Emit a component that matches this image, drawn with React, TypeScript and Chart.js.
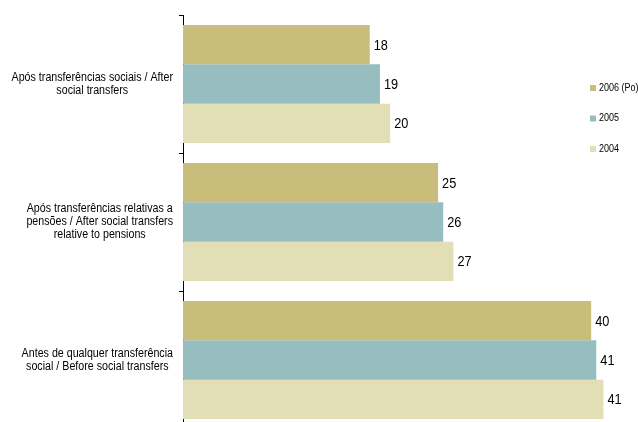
import React, { useEffect, useRef } from "react";
import { Chart, registerables } from "chart.js";

Chart.register(...registerables);

const categories: string[][] = [
  ["Após transferências sociais / After", "social transfers"],
  ["Após transferências relativas a", "pensões / After social transfers", "relative to pensions"],
  ["Antes de qualquer transferência", "social / Before social transfers"],
];
const seriesNames = ["2006 (Po)", "2005", "2004"];
const values2006 = [18.3, 25.0, 40.0];
const values2005 = [19.3, 25.5, 40.5];
const values2004 = [20.3, 26.5, 41.2];
const seriesColors = ["#C8BD7A", "#96BEC1", "#E2DFB7"];

const FONT = '"Liberation Sans", Arial, sans-serif';

function drawScaledText(ctx: any, text: string, x: number, y: number, sx: number) {
  ctx.save();
  ctx.translate(x, y);
  ctx.scale(sx, 1);
  ctx.fillText(text, 0, 0);
  ctx.restore();
}

const dataLabelsPlugin = {
  id: "dataLabels",
  afterDatasetsDraw(chart: any) {
    const ctx = chart.ctx;
    ctx.save();
    ctx.font = `15px ${FONT}`;
    ctx.fillStyle = "#000";
    ctx.textBaseline = "middle";
    ctx.textAlign = "left";
    chart.data.datasets.forEach((ds: any, i: number) => {
      const meta = chart.getDatasetMeta(i);
      meta.data.forEach((bar: any, j: number) => {
        drawScaledText(ctx, String(Math.round(ds.data[j])), bar.x + 4, bar.y + 1, 0.85);
      });
    });
    ctx.restore();
  },
};

const categoryLabelsPlugin = {
  id: "catLabels",
  afterDraw(chart: any) {
    const ctx = chart.ctx;
    const yScale = chart.scales.y;
    const sx = 0.89;
    const lh = 13;
    ctx.save();
    ctx.font = `12px ${FONT}`;
    ctx.fillStyle = "#000";
    ctx.textBaseline = "middle";
    ctx.textAlign = "center";
    const right = yScale.right - 10;
    chart.data.labels.forEach((lines: string[], i: number) => {
      const yc = yScale.getPixelForValue(i);
      const w = Math.max(...lines.map((l) => ctx.measureText(l).width)) * sx;
      const cx = right - w / 2;
      lines.forEach((l, k) => {
        const y = yc + (k - (lines.length - 1) / 2) * lh;
        drawScaledText(ctx, l, cx, y, sx);
      });
    });
    ctx.restore();
  },
};

const legendPlugin = {
  id: "sideLegend",
  afterDraw(chart: any) {
    const ctx = chart.ctx;
    ctx.save();
    ctx.font = `10px ${FONT}`;
    ctx.textBaseline = "middle";
    ctx.textAlign = "left";
    chart.data.datasets.forEach((ds: any, i: number) => {
      const y = 88 + i * 30.5;
      ctx.fillStyle = ds.backgroundColor;
      ctx.fillRect(590, y - 3, 6, 6);
      ctx.fillStyle = "#000";
      drawScaledText(ctx, ds.label, 599, y, 0.9);
    });
    ctx.restore();
  },
};

export default function App() {
  const ref = useRef<HTMLCanvasElement | null>(null);

  useEffect(() => {
    if (!ref.current) return;
    const chart = new Chart(ref.current, {
      type: "bar",
      data: {
        labels: categories,
        datasets: [
          { label: seriesNames[0], data: values2006, backgroundColor: seriesColors[0] },
          { label: seriesNames[1], data: values2005, backgroundColor: seriesColors[1] },
          { label: seriesNames[2], data: values2004, backgroundColor: seriesColors[2] },
        ],
      },
      options: {
        indexAxis: "y",
        animation: false,
        responsive: false,
        maintainAspectRatio: false,
        devicePixelRatio: 1,
        layout: { padding: { top: 15, right: 6, bottom: 3, left: 0 } },
        datasets: { bar: { barPercentage: 1, categoryPercentage: 0.855 } },
        plugins: {
          legend: { display: false },
          title: { display: false },
          tooltip: { enabled: false },
        },
        scales: {
          x: { display: false, min: 0, max: 44 },
          y: {
            type: "category",
            border: { display: true, color: "#000", width: 1 },
            grid: {
              display: true,
              drawOnChartArea: false,
              drawTicks: true,
              tickLength: 4,
              color: "#000",
              offset: true,
            },
            ticks: { display: false, autoSkip: false },
            afterFit: (s: any) => {
              s.width = 183;
            },
          },
        },
      } as any,
      plugins: [dataLabelsPlugin, categoryLabelsPlugin, legendPlugin],
    });
    return () => chart.destroy();
  }, []);

  return (
    <div
      style={{
        position: "fixed",
        left: 0,
        top: 0,
        width: 638,
        height: 422,
        overflow: "hidden",
        background: "#fff",
      }}
    >
      <canvas ref={ref} width={638} height={432} style={{ display: "block", width: 638, height: 432 }} />
    </div>
  );
}
